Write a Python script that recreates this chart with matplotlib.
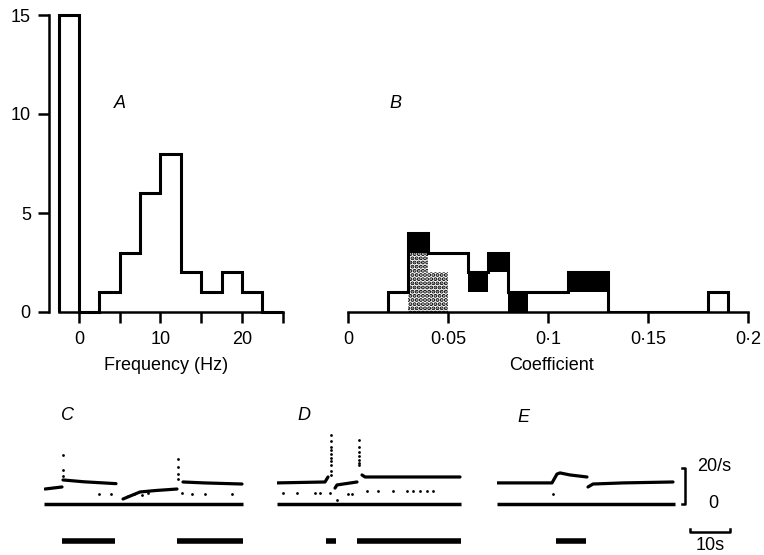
import numpy as np
import matplotlib
matplotlib.use("Agg")
import matplotlib.pyplot as plt

plt.rcParams['font.family'] = ['Liberation Sans', 'DejaVu Sans']
plt.rcParams['font.size'] = 13
plt.rcParams['hatch.linewidth'] = 2.0

# ---- data ----
# A: frequency histogram (bin edges in Hz, counts)
freq_edges = [-2.5, 0, 2.5, 5, 7.5, 10, 12.5, 15, 17.5, 20, 22.5, 25]
freq_counts = [15, 0, 1, 3, 6, 8, 2, 1, 2, 1, 0]

# B: coefficient histogram, three stacked groups
coef_bins = [0.02, 0.03, 0.04, 0.05, 0.06, 0.07, 0.08, 0.09, 0.10,
             0.11, 0.12, 0.13, 0.14, 0.15, 0.16, 0.17, 0.18]
coef_stippled = [0, 3, 2, 0, 0, 0, 0, 0, 0, 0, 0, 0, 0, 0, 0, 0, 0]
coef_open = [1, 0, 1, 3, 1, 2, 0, 1, 1, 1, 1, 0, 0, 0, 0, 0, 1]
coef_black = [0, 1, 0, 0, 1, 1, 1, 0, 0, 1, 1, 0, 0, 0, 0, 0, 0]
coef_ticks = [0, 0.05, 0.1, 0.15, 0.2]
coef_labels = ['0', '0·05', '0·1', '0·15', '0·2']

# C, D, E: firing rate traces (time s, rate /s), split where the record breaks
trace_c = [
    ([0.25, 4.5], [8.1, 9.2]),
    ([4.75, 10, 18], [13.0, 12.0, 11.0]),
    ([19.75, 24, 28, 33.25], [2.7, 6.5, 7.3, 8.1]),
    ([34.75, 40, 49.5], [11.9, 11.4, 10.8]),
]
spikes_c = [([4.75] * 3, [26.5, 18.4, 15.1]),
            ([33.5] * 4, [24.3, 20.0, 16.2, 13.5])]
dots_c = ([13.75, 16.75, 21, 22.5, 24.5, 26, 34.5, 37, 40.25, 47],
          [5.4, 5.4, 4.3, 5.4, 4.9, 5.9, 5.9, 5.4, 5.4, 5.4])
stim_c = [(4.5, 17.75), (33.25, 49.75)]
end_c = 49.75

trace_d = [
    ([0, 12, 12.75], [11.4, 11.9, 14.6]),
    ([14.5, 15, 20], [8.6, 10.3, 11.9]),
    ([21.25, 22, 45.75], [15.7, 14.6, 14.6]),
]
spikes_d = [([13.5] * 10, [37.3, 34, 31, 29, 27, 25, 23, 21.1, 18, 15.7]),
            ([20.5] * 7, [34.6, 31, 28, 26, 24, 22, 21.1])]
dots_d = ([1.5, 5, 9.5, 10.75, 13.25, 15, 17.75, 18.75, 22.5, 25.25, 29,
           32.5, 34, 35.75, 37.5, 39],
          [5.9, 5.9, 5.9, 5.9, 5.9, 2.2, 5.4, 5.4, 7.0, 7.0, 7.0,
           7.0, 7.0, 7.0, 7.0, 7.0])
stim_d = [(12.25, 14.75), (20, 46)]
end_d = 46

trace_e = [
    ([0, 6.5, 13.75, 15, 15.75, 18.25, 22.5], [11.4, 11.4, 11.4, 16.2, 16.8, 15.7, 14.6]),
    ([22.75, 24, 31.5, 44], [9.2, 10.8, 11.4, 11.9]),
]
spikes_e = []
dots_e = ([14], [5.4])
stim_e = [(14.75, 22.25)]
end_e = 44.5

W, H = 764, 555


def rect(x0, y0, x1, y1):
    return [x0 / W, 1 - y1 / H, (x1 - x0) / W, (y1 - y0) / H]


fig = plt.figure(figsize=(W / 100, H / 100), dpi=100)

# ---- panel A ----
axA = fig.add_axes(rect(58.6, 15, 282.75, 312))
axA.stairs(freq_counts, freq_edges, color='black', lw=2.2, clip_on=False)
axA.set_xlim(-2.5, 25)
axA.set_ylim(0, 15)
for s in ['top', 'right']:
    axA.spines[s].set_visible(False)
axA.spines['left'].set_position(('outward', 7))
for s in ['left', 'bottom']:
    axA.spines[s].set_linewidth(1.8)
axA.set_yticks([0, 5, 10, 15])
axA.set_xticks([0, 5, 10, 15, 20, 25])
axA.set_xticklabels(['0', '', '10', '', '20', ''])
axA.tick_params(direction='out', length=8, width=1.8, labelsize=13, pad=6)
axA.tick_params(axis='y', pad=5)

# ---- panel B ----
axB = fig.add_axes(rect(348, 15, 748, 312))
stip = np.array(coef_stippled)
opn = np.array(coef_open)
blk = np.array(coef_black)
axB.bar(coef_bins, stip, width=0.01, align='edge', color='white',
        edgecolor='black', linewidth=0, hatch='....')
axB.bar(coef_bins, opn, width=0.01, align='edge', bottom=stip,
        color='white', linewidth=0)
axB.bar(coef_bins, blk, width=0.01, align='edge', bottom=stip + opn,
        color='black', linewidth=0)
total = stip + opn + blk
edges = list(coef_bins) + [coef_bins[-1] + 0.01]
axB.stairs(total, edges, color='black', lw=2.2)
axB.set_xlim(0, 0.2)
axB.set_ylim(0, 15)
for s in ['top', 'right', 'left']:
    axB.spines[s].set_visible(False)
axB.spines['bottom'].set_linewidth(1.8)
axB.set_yticks([])
axB.set_xticks(coef_ticks)
axB.set_xticklabels(coef_labels)
axB.tick_params(direction='out', length=8, width=1.8, labelsize=13, pad=6)

fig.text(120 / W, 1 - 104 / H, 'A', style='italic', ha='center', va='center', fontsize=13)
fig.text(395 / W, 1 - 104 / H, 'B', style='italic', ha='center', va='center', fontsize=13)
fig.text(166 / W, 1 - 365 / H, 'Frequency (Hz)', ha='center', va='center', fontsize=13)
fig.text(552 / W, 1 - 365 / H, 'Coefficient', ha='center', va='center', fontsize=13)


# ---- traces C, D, E ----
def trace_axes(x0, span):
    ax = fig.add_axes(rect(x0, 430, x0 + 4 * span, 554))
    ax.set_xlim(0, span)
    ax.set_ylim(-27.03, 40)
    ax.axis('off')
    return ax


def draw_trace(ax, segs, spikes, dots, stims, end):
    ax.plot([0, end], [0, 0], color='black', lw=2.5, solid_capstyle='butt')
    for t, r in segs:
        ax.plot(t, r, color='black', lw=2.3, solid_capstyle='round')
    for t, r in spikes:
        ax.scatter(t, r, s=4, color='black', lw=0)
    ax.scatter(dots[0], dots[1], s=4, color='black', lw=0)
    for a, b in stims:
        ax.plot([a, b], [-20, -20], color='black', lw=4.0, solid_capstyle='butt')


axC = trace_axes(44, 50)
draw_trace(axC, trace_c, spikes_c, dots_c, stim_c, end_c)
axD = trace_axes(277, 50)
draw_trace(axD, trace_d, spikes_d, dots_d, stim_d, end_d)
axE = trace_axes(497, 66)
draw_trace(axE, trace_e, spikes_e, dots_e, stim_e, end_e)

# scale bars (20/s and 10 s)
axE.plot([46.3, 47, 47, 46.3], [19.5, 19.5, 0, 0], color='black', lw=1.8)
axE.plot([48.25, 48.25, 58.25, 58.25], [-13.5, -15, -15, -13.5], color='black', lw=1.8)
axE.text(50, 20.5, '20/s', ha='left', va='center', fontsize=13)
axE.text(54, 0, '0', ha='center', va='center', fontsize=13)
fig.text(710 / W, 1 - 545 / H, '10s', ha='center', va='center', fontsize=13)

fig.text(68 / W, 1 - 416 / H, 'C', style='italic', ha='center', va='center', fontsize=13)
fig.text(304 / W, 1 - 416 / H, 'D', style='italic', ha='center', va='center', fontsize=13)
fig.text(523 / W, 1 - 418 / H, 'E', style='italic', ha='center', va='center', fontsize=13)

fig.savefig('out.png', dpi=100)
